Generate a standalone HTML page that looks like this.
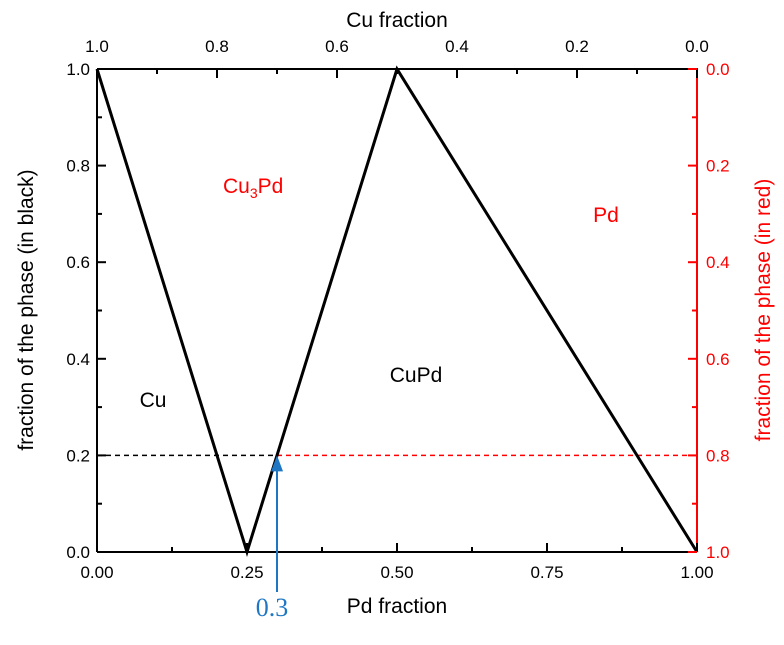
<!DOCTYPE html>
<html><head><meta charset="utf-8"><style>
body{margin:0;background:#fff;width:784px;height:640px;overflow:hidden}
text{font-family:"Liberation Sans",sans-serif}
</style></head><body>
<svg id="chart" width="784" height="640" xmlns="http://www.w3.org/2000/svg"></svg>
<script>
const xTicks=[0,0.25,0.5,0.75,1.0];
const xTickLabels=["0.00","0.25","0.50","0.75","1.00"];
const yTicks=[0,0.2,0.4,0.6,0.8,1.0];
const yTickLabels=["0.0","0.2","0.4","0.6","0.8","1.0"];
const topTickLabels=["1.0","0.8","0.6","0.4","0.2","0.0"];
const rightTickLabels=["1.0","0.8","0.6","0.4","0.2","0.0"];
const lineX=[0,0.25,0.5,1.0];
const lineY=[1,0,1,0];
const dashLevel=0.2;
const markerX=0.3;
const X0=97,X1=697,Y0=552,Y1=69;
const sx=v=>X0+v*(X1-X0), sy=v=>Y0-v*(Y0-Y1);
const svg=document.getElementById('chart');
const NS='http://www.w3.org/2000/svg';
function mk(tag,attrs,name,txt){const e=document.createElementNS(NS,tag);for(const k in attrs)e.setAttribute(k,attrs[k]);


if(txt!==undefined)e.textContent=txt;svg.appendChild(e);return e;}
// dashed lines
mk('line',{x1:X0,y1:sy(dashLevel),x2:sx(markerX),y2:sy(dashLevel),stroke:'#000','stroke-width':1.5,'stroke-dasharray':'5,4'},'black-dashed-line');
mk('line',{x1:sx(markerX),y1:sy(dashLevel),x2:X1,y2:sy(dashLevel),stroke:'#f00','stroke-width':1.5,'stroke-dasharray':'5,4'},'red-dashed-line');
// data line
mk('polyline',{points:lineX.map((x,i)=>sx(x)+','+sy(lineY[i])).join(' '),fill:'none',stroke:'#000','stroke-width':3,'stroke-linejoin':'miter'},'phase-boundary-line');
// axes
mk('line',{x1:X0,y1:Y0,x2:X1,y2:Y0,stroke:'#000','stroke-width':2},'x-axis-bottom');
mk('line',{x1:X0,y1:Y1,x2:X1,y2:Y1,stroke:'#000','stroke-width':2},'x-axis-top');
mk('line',{x1:X0,y1:Y0,x2:X0,y2:Y1,stroke:'#000','stroke-width':2},'y-axis-left');
mk('line',{x1:X1,y1:Y0,x2:X1,y2:Y1,stroke:'#f00','stroke-width':2},'y-axis-right');
mk('line',{x1:X1-1,y1:Y1,x2:X1+1,y2:Y1,stroke:'#000','stroke-width':2},'corner');
for(let i=0;i<=8;i++){const v=i/8,x=sx(v),L=i%2?5:9;
 mk('line',{x1:x,y1:Y0,x2:x,y2:Y0-L,stroke:'#000','stroke-width':2},'x-tick-bottom');
}
for(let i=0;i<=10;i++){const x=sx(i/10),L=i%2?5:9;
 mk('line',{x1:x,y1:Y1,x2:x,y2:Y1+L,stroke:'#000','stroke-width':2},'x-tick-top');
 mk('line',{x1:X0,y1:sy(i/10),x2:X0+L,y2:sy(i/10),stroke:'#000','stroke-width':2},'y-tick-left');
 mk('line',{x1:X1,y1:sy(i/10),x2:X1-L,y2:sy(i/10),stroke:'#f00','stroke-width':2},'y-tick-right');
}
xTicks.forEach((v,i)=>mk('text',{x:sx(v),y:Y0+26,'text-anchor':'middle','font-size':17},'x-tick-label',xTickLabels[i]));
yTicks.forEach((v,i)=>{mk('text',{x:X0-7,y:sy(v)+6,'text-anchor':'end','font-size':17},'y-tick-label',yTickLabels[i]);
 mk('text',{x:X1+9,y:sy(v)+6,'text-anchor':'start','font-size':17,fill:'#f00'},'right-tick-label',rightTickLabels[i]);});
topTickLabels.forEach((t,i)=>mk('text',{x:sx(i/5),y:Y1-17,'text-anchor':'middle','font-size':17},'top-tick-label',t));
mk('text',{x:397,y:613,'text-anchor':'middle','font-size':21},'x-axis-title','Pd fraction');
mk('text',{x:397,y:27,'text-anchor':'middle','font-size':21},'top-axis-title','Cu fraction');
mk('text',{x:33,y:310,'text-anchor':'middle','font-size':21,transform:'rotate(-90 33 310)'},'y-axis-title','fraction of the phase (in black)');
mk('text',{x:770,y:310,'text-anchor':'middle','font-size':21,fill:'#f00',transform:'rotate(-90 770 310)'},'right-axis-title','fraction of the phase (in red)');
// region labels
mk('text',{x:153,y:407,'text-anchor':'middle','font-size':21},'cu-label','Cu');
const c3=mk('text',{x:223,y:193,'font-size':21,fill:'#f00'},'cu3pd-label');
c3.innerHTML='Cu<tspan font-size="14" dy="5">3</tspan><tspan dy="-5">Pd</tspan>';
mk('text',{x:416,y:382,'text-anchor':'middle','font-size':21},'cupd-label','CuPd');
mk('text',{x:606,y:222,'text-anchor':'middle','font-size':21,fill:'#f00'},'pd-label','Pd');
// blue arrow
mk('line',{x1:sx(markerX),y1:592,x2:sx(markerX),y2:sy(dashLevel)+14,stroke:'#1f77c4','stroke-width':2},'marker-arrow-shaft');
mk('polygon',{points:`${sx(markerX)},${sy(dashLevel)} ${sx(markerX)-6},${sy(dashLevel)+16} ${sx(markerX)+6},${sy(dashLevel)+16}`,fill:'#1f77c4'},'marker-arrow-head');
mk('text',{x:sx(markerX)-5,y:616,'text-anchor':'middle','font-size':26,fill:'#1f77c4','font-family':'Liberation Serif, serif',style:'font-family:"Liberation Serif",serif'},'marker-label','0.3');
</script>
</body></html>
